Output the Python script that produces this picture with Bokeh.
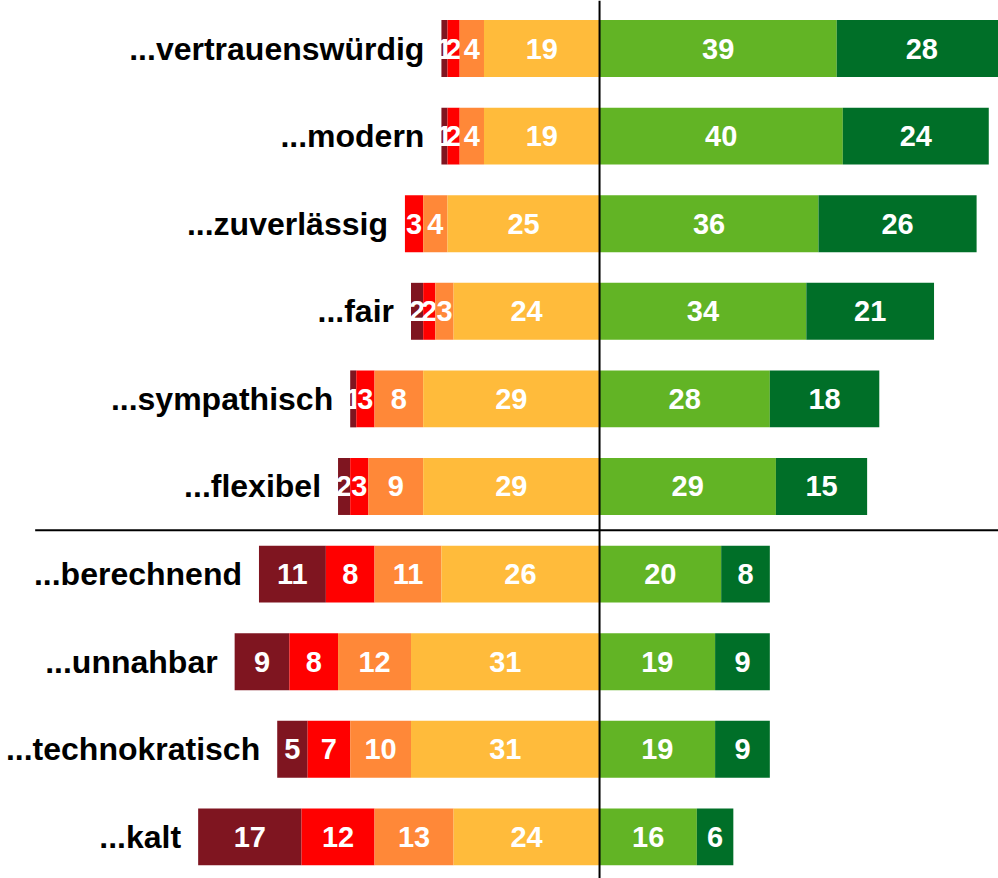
from bokeh.plotting import figure
from bokeh.models import ColumnDataSource, Range1d, Span
from bokeh.core.properties import value
from bokeh.embed import file_html
from bokeh.resources import INLINE

categories = ["...vertrauenswürdig", "...modern", "...zuverlässig", "...fair", "...sympathisch",
              "...flexibel", "...berechnend", "...unnahbar", "...technokratisch", "...kalt"]
neg_strong = [1, 1, 0, 2, 1, 2, 11, 9, 5, 17]
neg_mid = [2, 2, 3, 2, 3, 3, 8, 8, 7, 12]
neg_weak = [4, 4, 4, 3, 8, 9, 11, 12, 10, 13]
neutral_low = [19, 19, 25, 24, 29, 29, 26, 31, 31, 24]
pos_mid = [39, 40, 36, 34, 28, 29, 20, 19, 19, 16]
pos_strong = [28, 24, 26, 21, 18, 15, 8, 9, 9, 6]

left_series = [neg_strong, neg_mid, neg_weak, neutral_low]
left_colors = ["#7F1520", "#FF0000", "#FF8838", "#FFBB3B"]
right_series = [pos_mid, pos_strong]
right_colors = ["#62B425", "#006F28"]

n = len(categories)
ys = [-i for i in range(n)]

p = figure(width=998, height=878, output_backend="svg", toolbar_location=None,
           x_range=Range1d(-98.5, 65.6), y_range=Range1d(-9.475, 0.548),
           min_border=0, min_border_left=0, min_border_right=0, min_border_top=0, min_border_bottom=0)
p.axis.visible = False
p.grid.visible = False
p.outline_line_color = None

BAR_H = 0.65

totals_left = [sum(s[i] for s in left_series) for i in range(n)]
start = [-t for t in totals_left]
for series, color in zip(left_series, left_colors):
    lefts = list(start)
    rights = [l + v for l, v in zip(lefts, series)]
    src = ColumnDataSource(dict(y=ys, left=lefts, right=rights,
                                mid=[(a + b) / 2 for a, b in zip(lefts, rights)],
                                lab=[str(v) if v > 0 else "" for v in series]))
    p.hbar(y="y", left="left", right="right", height=BAR_H, source=src,
           fill_color=color, line_color=None)
    p.text(x="mid", y="y", text="lab", source=src, text_color="white",
           text_font=value("Liberation Sans"), text_font_style="bold", text_font_size="29px",
           text_align="center", text_baseline="middle")
    start = rights

start = [0] * n
for series, color in zip(right_series, right_colors):
    lefts = list(start)
    rights = [l + v for l, v in zip(lefts, series)]
    src = ColumnDataSource(dict(y=ys, left=lefts, right=rights,
                                mid=[(a + b) / 2 for a, b in zip(lefts, rights)],
                                lab=[str(v) if v > 0 else "" for v in series]))
    p.hbar(y="y", left="left", right="right", height=BAR_H, source=src,
           fill_color=color, line_color=None)
    p.text(x="mid", y="y", text="lab", source=src, text_color="white",
           text_font=value("Liberation Sans"), text_font_style="bold", text_font_size="29px",
           text_align="center", text_baseline="middle")
    start = rights

cat_src = ColumnDataSource(dict(y=ys, x=[-t for t in totals_left], cat=categories))
p.text(x="x", y="y", text="cat", source=cat_src, text_color="black",
       text_font=value("Liberation Sans"), text_font_style="bold", text_font_size="32px",
       text_align="right", text_baseline="middle", x_offset=-17)

p.add_layout(Span(location=0, dimension="height", line_color="black", line_width=2))
p.segment(x0=[-92.8], x1=[70], y0=[-5.5], y1=[-5.5], line_color="black", line_width=2)

open("out.html", "w").write(file_html(p, INLINE))
